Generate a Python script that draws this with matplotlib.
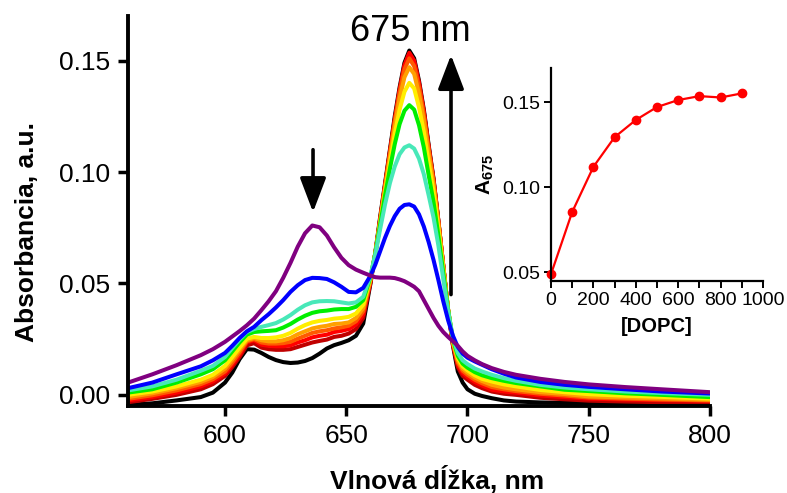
import matplotlib
matplotlib.use("Agg")
import matplotlib.pyplot as plt
from matplotlib.ticker import FormatStrFormatter

plt.rcParams["font.family"] = ["Liberation Sans", "DejaVu Sans"]
plt.rcParams["mathtext.fontset"] = "custom"
plt.rcParams["mathtext.rm"] = "Liberation Sans"
plt.rcParams["mathtext.bf"] = "Liberation Sans:bold"

# wavelength grid, nm
wl = [560, 570, 580, 590, 595, 600, 603, 606, 609, 612, 615, 618, 621, 624, 627, 630, 633, 636,
      639, 642, 645, 648, 651, 654, 657, 660, 662, 664, 666, 668, 670, 672, 674, 676, 678, 680,
      682, 684, 686, 688, 690, 692, 694, 696, 698, 700, 703, 706, 710, 715, 720, 730, 740, 750,
      765, 780, 800]

# absorbance spectra, 0 DOPC (purple) -> highest DOPC (black)
purple = [0.0055, 0.0092, 0.0133, 0.0178, 0.0205, 0.0238, 0.0262, 0.0286, 0.0312, 0.0342,
          0.038, 0.042, 0.0465, 0.0525, 0.0592, 0.0665, 0.0725, 0.076, 0.0752, 0.0715, 0.0662,
          0.0615, 0.0582, 0.0562, 0.0548, 0.0535, 0.0528, 0.0526, 0.0526, 0.0526, 0.0524,
          0.0518, 0.051, 0.0498, 0.0485, 0.0465, 0.0425, 0.0385, 0.0345, 0.031, 0.0282, 0.026,
          0.024, 0.022, 0.0195, 0.0175, 0.0155, 0.0138, 0.012, 0.0103, 0.009, 0.0072, 0.0058,
          0.0047, 0.0035, 0.0025, 0.0012]
blue = [0.003, 0.0055, 0.0092, 0.0128, 0.0155, 0.0188, 0.022, 0.0255, 0.0285, 0.0305, 0.0335,
        0.0362, 0.0392, 0.0425, 0.0462, 0.0492, 0.0515, 0.0525, 0.0524, 0.052, 0.0505, 0.0485,
        0.0462, 0.046, 0.048, 0.0535, 0.0585, 0.0645, 0.0705, 0.0758, 0.0802, 0.0835, 0.0852,
        0.0855, 0.0845, 0.081, 0.0755, 0.0685, 0.0605, 0.0515, 0.042, 0.0335, 0.0265, 0.0215,
        0.0185, 0.0167, 0.015, 0.0135, 0.0115, 0.0095, 0.0078, 0.0058, 0.0045, 0.0036, 0.0025,
        0.0015, 0.0006]
aqua = [0.002, 0.0038, 0.0068, 0.0108, 0.013, 0.017, 0.021, 0.0248, 0.0282, 0.0295, 0.0305,
        0.0313, 0.0322, 0.0338, 0.0358, 0.0382, 0.0402, 0.0415, 0.042, 0.0421, 0.042, 0.0415,
        0.041, 0.0415, 0.044, 0.0535, 0.063, 0.0745, 0.0855, 0.095, 0.1025, 0.108, 0.111,
        0.112, 0.1105, 0.106, 0.099, 0.0895, 0.0795, 0.067, 0.052, 0.0375, 0.0255, 0.0188,
        0.0155, 0.0138, 0.0118, 0.0105, 0.009, 0.0075, 0.0063, 0.0045, 0.0033, 0.0025, 0.0015,
        0.0008, 0.0]
green = [0.001, 0.0025, 0.0055, 0.0092, 0.0115, 0.0155, 0.0195, 0.0235, 0.027, 0.0282, 0.0285,
         0.0287, 0.029, 0.0302, 0.0318, 0.0338, 0.0355, 0.0368, 0.0375, 0.0378, 0.0383, 0.0385,
         0.0385, 0.0395, 0.0425, 0.053, 0.0635, 0.0765, 0.0895, 0.1015, 0.1125, 0.1215, 0.1275,
         0.130, 0.128, 0.121, 0.111, 0.0985, 0.0865, 0.0715, 0.0548, 0.0381, 0.0248, 0.0175,
         0.014, 0.0122, 0.0102, 0.0088, 0.0075, 0.0063, 0.0053, 0.0038, 0.0023, 0.0017, 0.0007,
         0.0, -0.001]
yellow = [0.0, 0.0015, 0.0038, 0.0068, 0.009, 0.013, 0.017, 0.0212, 0.0252, 0.026, 0.0255,
          0.0255, 0.0258, 0.0265, 0.0278, 0.0297, 0.0313, 0.0325, 0.0332, 0.0336, 0.0342,
          0.0345, 0.035, 0.0365, 0.0405, 0.0525, 0.0635, 0.077, 0.091, 0.104, 0.117, 0.128,
          0.136, 0.140, 0.1375, 0.129, 0.118, 0.104, 0.091, 0.0745, 0.0565, 0.0383, 0.0242,
          0.0165, 0.0128, 0.011, 0.0088, 0.0072, 0.006, 0.0047, 0.0038, 0.0022, 0.0012, 0.0003,
          -0.0004, -0.0009, -0.0017]
orange = [-0.001, 0.0007, 0.003, 0.0058, 0.008, 0.0118, 0.0158, 0.0202, 0.0245, 0.0255, 0.0245,
          0.024, 0.024, 0.0245, 0.0255, 0.0272, 0.0285, 0.0298, 0.0305, 0.031, 0.0318, 0.032,
          0.0325, 0.0345, 0.039, 0.052, 0.0635, 0.078, 0.0925, 0.1065, 0.1205, 0.133, 0.1425,
          0.147, 0.144, 0.135, 0.123, 0.108, 0.094, 0.0765, 0.0575, 0.0383, 0.0237, 0.0155,
          0.0118, 0.010, 0.0078, 0.0062, 0.0045, 0.0033, 0.0025, 0.0012, 0.0004, -0.0007,
          -0.0012, -0.0016, -0.0022]
orangered = [-0.0018, -0.0002, 0.002, 0.0048, 0.007, 0.0105, 0.0145, 0.019, 0.024, 0.025,
             0.0235, 0.023, 0.023, 0.0232, 0.0238, 0.0252, 0.0265, 0.0278, 0.0285, 0.029,
             0.0298, 0.0303, 0.031, 0.033, 0.0375, 0.0515, 0.0635, 0.0785, 0.0935, 0.108,
             0.1225, 0.1355, 0.146, 0.151, 0.1475, 0.138, 0.1255, 0.110, 0.0955, 0.0775, 0.058,
             0.0382, 0.0232, 0.0145, 0.0108, 0.009, 0.0068, 0.0052, 0.0035, 0.0025, 0.0017,
             0.0005, -0.0003, -0.0012, -0.0017, -0.0021, -0.0025]
red = [-0.0025, -0.001, 0.001, 0.0038, 0.006, 0.0095, 0.0135, 0.018, 0.0235, 0.0245, 0.0225,
       0.022, 0.0218, 0.0218, 0.0222, 0.0235, 0.0245, 0.0258, 0.0265, 0.027, 0.0282, 0.0287,
       0.0295, 0.0315, 0.036, 0.051, 0.0635, 0.079, 0.094, 0.109, 0.1235, 0.137, 0.148,
       0.1535, 0.150, 0.140, 0.127, 0.111, 0.0962, 0.0778, 0.058, 0.038, 0.0228, 0.0135,
       0.0098, 0.008, 0.0058, 0.0042, 0.0023, 0.0015, 0.001, -0.0003, -0.001, -0.0017,
       -0.0021, -0.0024, -0.0027]
darkred = [-0.0033, -0.0018, 0.0, 0.0025, 0.0048, 0.0085, 0.0125, 0.017, 0.0222, 0.0232,
           0.0212, 0.0205, 0.0202, 0.0202, 0.0205, 0.0215, 0.0225, 0.0235, 0.0242, 0.0248,
           0.026, 0.0265, 0.0275, 0.0295, 0.0345, 0.0505, 0.0635, 0.079, 0.094, 0.109, 0.1235,
           0.1365, 0.1475, 0.153, 0.1495, 0.1398, 0.127, 0.1112, 0.0965, 0.078, 0.058, 0.038,
           0.0225, 0.0125, 0.0085, 0.0068, 0.0045, 0.003, 0.0015, 0.0005, 0.0, -0.0013, -0.002,
           -0.0026, -0.003, -0.0033, -0.0034]
black = [-0.0045, -0.0038, -0.0025, -0.001, 0.001, 0.0055, 0.010, 0.016, 0.0205, 0.0203,
         0.0188, 0.017, 0.0156, 0.0147, 0.0143, 0.0145, 0.0152, 0.0165, 0.0185, 0.0208, 0.0223,
         0.0233, 0.0245, 0.0265, 0.032, 0.050, 0.064, 0.080, 0.095, 0.110, 0.125, 0.138, 0.149,
         0.1545, 0.151, 0.141, 0.128, 0.112, 0.097, 0.078, 0.058, 0.038, 0.022, 0.0105, 0.0055,
         0.0025, 0.0005, -0.0005, -0.0015, -0.0025, -0.003, -0.0034, -0.0036, -0.0038, -0.004,
         -0.004, -0.0042]

spectra = [purple, blue, aqua, green, yellow, orange, orangered, red, darkred, black]
colors = ["#800080", "#0000ff", "#48e8b8", "#00ee00", "#ffee00", "#ffa000", "#ff5a00",
          "#ff0000", "#c00000", "#000000"]

# inset: A675 vs DOPC
dopc = [0, 100, 200, 300, 400, 500, 600, 700, 800, 900]
a675 = [0.049, 0.0855, 0.112, 0.1294, 0.1395, 0.1471, 0.1512, 0.1535, 0.1527, 0.1551]

fig = plt.figure(figsize=(7.87, 4.93), dpi=100)
ax = fig.add_axes([128 / 787, 1 - 406 / 493, 582 / 787, 390 / 493])

for y, c in reversed(list(zip(spectra, colors))):
    ax.plot(wl, y, color=c, lw=2.9, solid_joinstyle="round", solid_capstyle="round")

ax.set_xlim(560, 800)
ax.set_ylim(-0.005, 0.17)
ax.set_xticks([600, 650, 700, 750, 800])
ax.set_yticks([0.0, 0.05, 0.10, 0.15])
ax.yaxis.set_major_formatter(FormatStrFormatter("%.2f"))
for s in ["top", "right"]:
    ax.spines[s].set_visible(False)
for s in ["left", "bottom"]:
    ax.spines[s].set_linewidth(2.8)
ax.tick_params(width=2.5, length=7, labelsize=19, pad=6)

# arrows and label
arrow_kw = dict(arrowstyle="-|>,head_length=1.05,head_width=0.4", lw=2.6,
                color="black", shrinkA=0, shrinkB=0, mutation_scale=20)
ax.annotate("", xy=(693.2, 0.1525), xytext=(693.2, 0.045), arrowprops=arrow_kw)
ax.annotate("", xy=(636.3, 0.082), xytext=(636.3, 0.110), arrowprops=arrow_kw)
ax.text(676.3, 0.1587, "675 nm", fontsize=26, ha="center", va="baseline")

fig.text(27 / 787, 1 - 232 / 493, "Absorbancia, a.u.", rotation=90, fontsize=19,
         fontweight="bold", ha="center", va="center")
fig.text(437 / 787, 1 - 480 / 493, "Vlnová dĺžka, nm", fontsize=19, fontweight="bold",
         ha="center", va="center")

# inset
ins = fig.add_axes([551 / 787, 1 - 281 / 493, 212 / 787, 213 / 493])
ins.plot(dopc, a675, color="#ff0000", lw=1.6, marker="o", ms=6, clip_on=False)
ins.set_xlim(0, 1000)
ins.set_ylim(0.045, 0.17)
ins.set_xticks(range(0, 1001, 100))
ins.set_xticklabels([str(v) if v % 200 == 0 else "" for v in range(0, 1001, 100)])
ins.set_yticks([0.05, 0.10, 0.15])
ins.yaxis.set_major_formatter(FormatStrFormatter("%.2f"))
for s in ["top", "right"]:
    ins.spines[s].set_visible(False)
for s in ["left", "bottom"]:
    ins.spines[s].set_linewidth(1.6)
ins.tick_params(width=1.4, length=5, labelsize=14, pad=3)
ins.set_xlabel("[DOPC]", fontsize=14.5, fontweight="bold", labelpad=6)
ins.set_ylabel(r"$\mathbf{A}_{\mathbf{675}}$", fontsize=15, labelpad=4)

fig.savefig("out.png", dpi=100)
